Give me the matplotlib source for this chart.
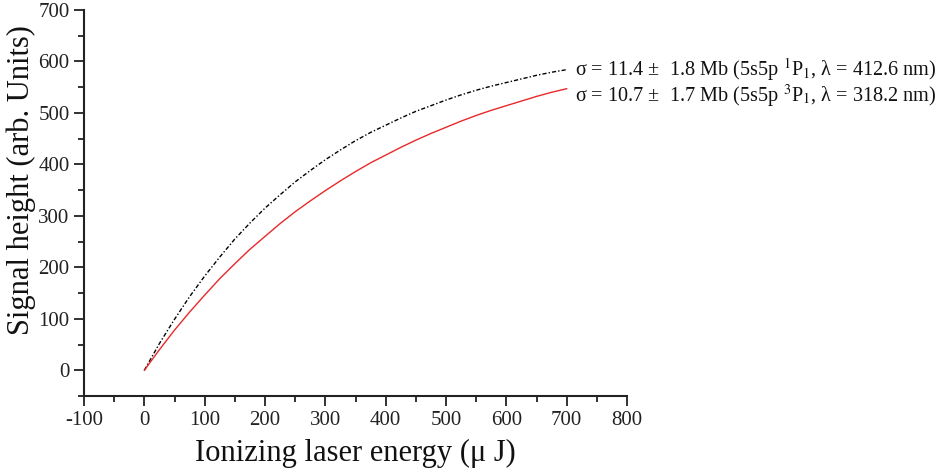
import matplotlib
matplotlib.use("Agg")
import matplotlib.pyplot as plt
from matplotlib.ticker import MultipleLocator

plt.rcParams['font.family'] = ['Liberation Serif', 'DejaVu Serif']
plt.rcParams['mathtext.fontset'] = 'stix'
plt.rcParams['axes.unicode_minus'] = False

energy = [0, 25, 50, 75, 100, 125, 150, 175, 200, 225, 250, 275, 300, 325, 350,
          375, 400, 425, 450, 475, 500, 525, 550, 575, 600, 625, 650, 675, 700]
signal_1p1 = [0, 52, 99, 143, 183, 220, 255, 286, 315, 341, 366, 388, 409, 428, 446,
              462, 476, 490, 503, 514, 525, 535, 544, 552, 559, 566, 573, 579, 584]
signal_3p1 = [0, 40, 78, 113, 146, 178, 207, 235, 260, 285, 308, 329, 349, 368, 386,
              403, 418, 433, 447, 460, 472, 484, 495, 505, 514, 523, 532, 540, 547]
label_1p1 = r"σ = 11.4 ±  1.8 Mb (5s5p $^{1}$P$_{1}$, λ = 412.6 nm)"
label_3p1 = r"σ = 10.7 ±  1.7 Mb (5s5p $^{3}$P$_{1}$, λ = 318.2 nm)"
xticks = [-100, 0, 100, 200, 300, 400, 500, 600, 700, 800]
yticks = [0, 100, 200, 300, 400, 500, 600, 700]

fig = plt.figure(figsize=(9.42, 4.74), dpi=100)
ax = fig.add_axes([0.0892, 0.1646, 0.5764, 0.8144])

ax.plot(energy, signal_1p1, color='black', lw=1.0, linestyle=(0, (3, 1.5, 1, 1.5)))
ax.plot(energy, signal_3p1, color='#e8282a', lw=1.0)

ax.text(713, 584, label_1p1, fontsize=14.6, va='center', ha='left', clip_on=False, color='#111')
ax.text(713, 532, label_3p1, fontsize=14.6, va='center', ha='left', clip_on=False, color='#111')

ax.set_xlim(-100, 800)
ax.set_ylim(-50, 700)
ax.set_xticks(xticks)
ax.set_yticks(yticks)
ax.xaxis.set_minor_locator(MultipleLocator(50))
ax.yaxis.set_minor_locator(MultipleLocator(50))
ax.tick_params(which='major', direction='out', length=7, width=1.3, labelsize=15, colors='#222')
ax.tick_params(which='minor', direction='out', length=4, width=1.3, colors='#222')
for s in ['top', 'right']:
    ax.spines[s].set_visible(False)
for s in ['left', 'bottom']:
    ax.spines[s].set_linewidth(1.5)
    ax.spines[s].set_color('#222')

ax.set_xlabel("Ionizing laser energy (μ J)", fontsize=22, color='#111', labelpad=7)
ax.set_ylabel("Signal height (arb. Units)", fontsize=22, color='#111')
ax.yaxis.set_label_coords(-0.088, 0.56)

fig.savefig("out.png", dpi=100)
